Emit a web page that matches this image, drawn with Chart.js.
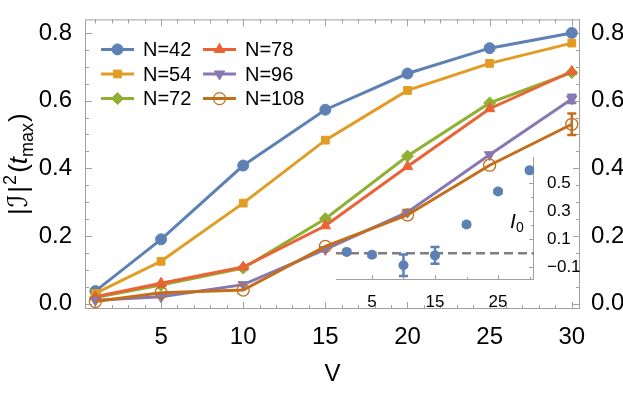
<!DOCTYPE html>
<html>
<head>
<meta charset="utf-8">
<script src="https://cdn.jsdelivr.net/npm/chart.js@4.4.1/dist/chart.umd.min.js"></script>
<style>
    body { margin: 0; background: #fff; }
    #wrap { position: relative; width: 623px; height: 393px; }
    #wrap canvas { position: absolute; }
    #main { left: 0; top: 0; }
    #inset { left: 300px; top: 140px; }
</style>
</head>
<body>
<div id="wrap">
    <canvas id="main" width="623" height="393"></canvas>
    <canvas id="inset" width="323" height="180"></canvas>
</div>
<script>
// values
const vValues = [1, 5, 10, 15, 20, 25, 30];
const seriesLabels = ["N=42", "N=54", "N=72", "N=78", "N=96", "N=108"];
const valuesN42 = [0.037, 0.19, 0.408, 0.573, 0.68, 0.755, 0.80];
const valuesN54 = [0.03, 0.125, 0.297, 0.483, 0.63, 0.71, 0.77];
const valuesN72 = [0.018, 0.055, 0.105, 0.251, 0.436, 0.593, 0.683];
const valuesN78 = [0.02, 0.06, 0.108, 0.23, 0.405, 0.576, 0.686];
const valuesN96 = [0.01, 0.02, 0.056, 0.16, 0.27, 0.44, 0.605];
const valuesN108 = [0.006, 0.032, 0.04, 0.169, 0.262, 0.409, 0.53];
const errorsN96 = [0, 0, 0, 0, 0, 0, 0.012];
const errorsN108 = [0, 0, 0, 0, 0, 0, 0.032];
const xTicks = [5, 10, 15, 20, 25, 30];
const yTicks = [0, 0.2, 0.4, 0.6, 0.8];

// inset: I0 against V
const insetV = [1, 5, 10, 15, 20, 25, 30];
const insetI0 = [0.01, -0.01, -0.085, -0.015, 0.205, 0.44, 0.59];
const insetErrors = [0.01, 0.012, 0.077, 0.06, 0.012, 0.012, 0.012];
const insetXTicks = [5, 15, 25];
const insetYTicks = [-0.1, 0.1, 0.3, 0.5];

const allValues = [valuesN42, valuesN54, valuesN72, valuesN78, valuesN96, valuesN108];
const allErrors = [null, null, null, null, errorsN96, errorsN108];

const colors = ["#5E81B5", "#E19C24", "#8FB032", "#EB6235", "#8778B3", "#C56E1A"];
const markers = [
    { style: "circle", radius: 5.5, rotation: 0, fill: true },
    { style: "rect", radius: 5.5, rotation: 0, fill: true },
    { style: "rectRot", radius: 6, rotation: 0, fill: true },
    { style: "triangle", radius: 6, rotation: 0, fill: true },
    { style: "triangle", radius: 6, rotation: 180, fill: true },
    { style: "circle", radius: 6, rotation: 0, fill: false }
];

const FONT = "'Liberation Sans', 'DejaVu Sans', sans-serif";
const FRAME = "#a0a0a0";

function toPoints(xs, ys) {
    return xs.map((x, i) => ({ x: x, y: ys[i] }));
}

function range(a, b, step) {
    const out = [];
    for (let v = a; v <= b + 1e-9; v += step) out.push(Math.round(v * 1000) / 1000);
    return out;
}

// frame with inward ticks, Mathematica style
const framePlugin = {
    id: "frame",
    beforeDatasetsDraw(chart, args, opts) {
        const ctx = chart.ctx;
        const a = chart.chartArea;
        const xs = chart.scales.x;
        const ys = chart.scales.y;
        ctx.save();
        ctx.strokeStyle = FRAME;
        ctx.lineWidth = 1;
        ctx.beginPath();
        (opts.sides || ["left", "right", "top", "bottom"]).forEach((s) => {
            if (s === "left") { ctx.moveTo(a.left + 0.5, a.top); ctx.lineTo(a.left + 0.5, a.bottom); }
            if (s === "right") { ctx.moveTo(a.right - 0.5, a.top); ctx.lineTo(a.right - 0.5, a.bottom); }
            if (s === "top") { ctx.moveTo(a.left, a.top + 0.5); ctx.lineTo(a.right, a.top + 0.5); }
            if (s === "bottom") { ctx.moveTo(a.left, a.bottom - 0.5); ctx.lineTo(a.right, a.bottom - 0.5); }
        });
        ctx.stroke();
        ctx.beginPath();
        const xt = (vals, len) => vals.forEach((v) => {
            const px = Math.round(xs.getPixelForValue(v)) + 0.5;
            if (px < a.left || px > a.right) return;
            if (opts.xBottom) { ctx.moveTo(px, a.bottom); ctx.lineTo(px, a.bottom - len); }
            if (opts.xTop) { ctx.moveTo(px, a.top); ctx.lineTo(px, a.top + len); }
        });
        const yt = (vals, len) => vals.forEach((v) => {
            const py = Math.round(ys.getPixelForValue(v)) + 0.5;
            if (py < a.top || py > a.bottom) return;
            if (opts.yLeft) { ctx.moveTo(a.left, py); ctx.lineTo(a.left + len, py); }
            if (opts.yRight) { ctx.moveTo(a.right, py); ctx.lineTo(a.right - len, py); }
        });
        xt(opts.xMajor, opts.majorLen);
        xt(opts.xMinor, opts.minorLen);
        yt(opts.yMajor, opts.majorLen);
        yt(opts.yMinor, opts.minorLen);
        ctx.stroke();
        ctx.restore();
    }
};

// vertical error bars from dataset.errors
const errorBarPlugin = {
    id: "errorBars",
    afterDatasetsDraw(chart) {
        const ctx = chart.ctx;
        const ys = chart.scales.y;
        ctx.save();
        chart.data.datasets.forEach((ds, i) => {
            if (!ds.errors) return;
            const meta = chart.getDatasetMeta(i);
            ctx.strokeStyle = ds.borderColor;
            ctx.lineWidth = 2.5;
            meta.data.forEach((pt, j) => {
                const e = ds.errors[j];
                if (!e) return;
                const v = ds.data[j].y;
                const y1 = ys.getPixelForValue(v + e);
                const y2 = ys.getPixelForValue(v - e);
                ctx.beginPath();
                ctx.moveTo(pt.x, y1); ctx.lineTo(pt.x, y2);
                ctx.moveTo(pt.x - 4.5, y1); ctx.lineTo(pt.x + 4.5, y1);
                ctx.moveTo(pt.x - 4.5, y2); ctx.lineTo(pt.x + 4.5, y2);
                ctx.stroke();
            });
        });
        ctx.restore();
    }
};

// two-column legend with line + marker
const legendPlugin = {
    id: "lineLegend",
    afterDatasetsDraw(chart) {
        const ctx = chart.ctx;
        const a = chart.chartArea;
        ctx.save();
        chart.data.datasets.forEach((ds, i) => {
            const col = Math.floor(i / 3);
            const row = i % 3;
            const x0 = a.left + 16 + col * 102;
            const y = a.top + 30 + row * 24.6;
            ctx.strokeStyle = ds.borderColor;
            ctx.lineWidth = 3;
            ctx.beginPath();
            ctx.moveTo(x0, y);
            ctx.lineTo(x0 + 33, y);
            ctx.stroke();
            ctx.fillStyle = ds.pointBackgroundColor;
            ctx.strokeStyle = ds.borderColor;
            ctx.lineWidth = ds.pointBorderWidth;
            Chart.helpers.drawPoint(ctx, {
                pointStyle: ds.pointStyle,
                rotation: ds.pointRotation,
                radius: ds.pointRadius,
                borderWidth: ds.pointBorderWidth
            }, x0 + 16.5, y);
            ctx.fillStyle = "#000";
            ctx.font = "20px " + FONT;
            ctx.textBaseline = "middle";
            ctx.textAlign = "left";
            ctx.fillText(ds.label, x0 + 42, y + 1);
        });
        ctx.restore();
    }
};

// rotated y title |I|^2(t_max)
const yTitlePlugin = {
    id: "yTitle",
    afterDraw(chart) {
        const ctx = chart.ctx;
        const a = chart.chartArea;
        const parts = [
            { t: "|", f: "26px " + FONT, dy: 0, gap: 1 },
            { t: "\u2110", f: "italic 27px 'DejaVu Serif', " + FONT, dy: 0, gap: 2 },
            { t: "|", f: "26px " + FONT, dy: 0, gap: 1 },
            { t: "2", f: "18px " + FONT, dy: -11, gap: 2 },
            { t: "(", f: "26px " + FONT, dy: 0, gap: 0 },
            { t: "t", f: "italic 26px " + FONT, dy: 0, gap: 0 },
            { t: "max", f: "18px " + FONT, dy: 6, gap: 1 },
            { t: ")", f: "26px " + FONT, dy: 0, gap: 0 }
        ];
        ctx.save();
        ctx.fillStyle = "#000";
        ctx.textBaseline = "alphabetic";
        ctx.textAlign = "left";
        let total = 0;
        parts.forEach((p) => { ctx.font = p.f; p.w = ctx.measureText(p.t).width + p.gap; total += p.w; });
        ctx.translate(17, (a.top + a.bottom) / 2);
        ctx.rotate(-Math.PI / 2);
        let x = -total / 2;
        parts.forEach((p) => {
            ctx.font = p.f;
            ctx.fillText(p.t, x, 10 + p.dy);
            x += p.w;
        });
        ctx.restore();
    }
};

const mainDatasets = seriesLabels.map((label, i) => ({
    label: label,
    data: toPoints(vValues, allValues[i]),
    errors: allErrors[i],
    borderColor: colors[i],
    backgroundColor: colors[i],
    borderWidth: 3,
    pointStyle: markers[i].style,
    pointRadius: markers[i].radius,
    pointRotation: markers[i].rotation,
    pointBackgroundColor: markers[i].fill ? colors[i] : "rgba(0,0,0,0)",
    pointBorderColor: colors[i],
    pointBorderWidth: markers[i].fill ? 1 : 1.3,
    tension: 0,
    order: seriesLabels.length - i
}));

const tickFont = { family: FONT, size: 24 };

new Chart(document.getElementById("main"), {
    type: "line",
    data: { datasets: mainDatasets },
    options: {
        responsive: false,
        animation: false,
        events: [],
        layout: { padding: { top: 2, right: 0, left: 0, bottom: 0 } },
        plugins: {
            legend: { display: false },
            tooltip: { enabled: false },
            frame: {
                xMajor: xTicks, xMinor: range(1, 30, 1),
                yMajor: yTicks, yMinor: range(0, 0.8, 0.05),
                majorLen: 7, minorLen: 4,
                xBottom: true, xTop: true, yLeft: true, yRight: true
            }
        },
        scales: {
            x: {
                type: "linear",
                min: 0.37, max: 30.5,
                grid: { display: false },
                border: { display: false },
                afterBuildTicks: (s) => { s.ticks = xTicks.map((v) => ({ value: v })); },
                afterFit: (s) => { s.height = 84; },
                ticks: { font: tickFont, color: "#000", padding: 6, maxRotation: 0 },
                title: { display: true, text: "V", font: { family: FONT, size: 24 }, color: "#000", padding: { top: 0, bottom: 4 } }
            },
            y: {
                type: "linear",
                position: "left",
                min: -0.016, max: 0.84,
                grid: { display: false },
                border: { display: false },
                afterBuildTicks: (s) => { s.ticks = yTicks.map((v) => ({ value: v })); },
                afterFit: (s) => { s.width = 85; },
                ticks: { font: tickFont, color: "#000", padding: 5, callback: (v) => v.toFixed(1) }
            },
            y2: {
                type: "linear",
                position: "right",
                min: -0.016, max: 0.84,
                grid: { display: false },
                border: { display: false },
                afterBuildTicks: (s) => { s.ticks = yTicks.map((v) => ({ value: v })); },
                afterFit: (s) => { s.width = 43; },
                ticks: { font: tickFont, color: "#000", padding: 3, callback: (v) => v.toFixed(1) }
            }
        }
    },
    plugins: [framePlugin, errorBarPlugin, legendPlugin, yTitlePlugin]
});

// inset: dashed zero line and I0 label
const zeroLinePlugin = {
    id: "zeroLine",
    beforeDatasetsDraw(chart) {
        const ctx = chart.ctx;
        const a = chart.chartArea;
        const y = chart.scales.y.getPixelForValue(0);
        ctx.save();
        ctx.strokeStyle = "#7f7f7f";
        ctx.lineWidth = 2.5;
        ctx.setLineDash([9, 5]);
        ctx.beginPath();
        ctx.moveTo(a.left, y);
        ctx.lineTo(a.right, y);
        ctx.stroke();
        ctx.restore();
    },
    afterDraw(chart) {
        const ctx = chart.ctx;
        const a = chart.chartArea;
        const y = chart.scales.y.getPixelForValue(0.18);
        ctx.save();
        ctx.fillStyle = "#000";
        ctx.textBaseline = "alphabetic";
        ctx.font = "italic 21px " + FONT;
        ctx.fillText("I", a.right - 24, y);
        ctx.font = "14px " + FONT;
        ctx.fillText("0", a.right - 18, y + 4);
        ctx.restore();
    }
};

const insetFont = { family: FONT, size: 17 };

new Chart(document.getElementById("inset"), {
    type: "scatter",
    data: {
        datasets: [{
            label: "I0",
            data: toPoints(insetV, insetI0),
            errors: insetErrors,
            borderColor: colors[0],
            backgroundColor: colors[0],
            pointRadius: 5,
            pointBorderWidth: 0,
            showLine: false
        }]
    },
    options: {
        responsive: false,
        animation: false,
        events: [],
        layout: { padding: { top: 17, left: 36, right: 0, bottom: 0 } },
        plugins: {
            legend: { display: false },
            tooltip: { enabled: false },
            frame: {
                sides: ["right", "bottom"],
                xMajor: insetXTicks, xMinor: [10, 20, 30],
                yMajor: insetYTicks, yMinor: [-0.2, 0, 0.2, 0.4, 0.6],
                majorLen: 5, minorLen: 3,
                xBottom: true, xTop: false, yLeft: false, yRight: true
            }
        },
        scales: {
            x: {
                type: "linear",
                min: -0.7, max: 30.7,
                grid: { display: false },
                border: { display: false },
                afterBuildTicks: (s) => { s.ticks = insetXTicks.map((v) => ({ value: v })); },
                afterFit: (s) => { s.height = 40; },
                ticks: { font: insetFont, color: "#000", padding: 4, maxRotation: 0 }
            },
            y: {
                type: "linear",
                position: "right",
                min: -0.19, max: 0.685,
                grid: { display: false },
                border: { display: false },
                afterBuildTicks: (s) => { s.ticks = insetYTicks.map((v) => ({ value: v })); },
                afterFit: (s) => { s.width = 89; },
                ticks: { font: insetFont, color: "#000", padding: 5, callback: (v) => (v < 0 ? "\u2212" + Math.abs(v).toFixed(1) : v.toFixed(1)) }
            }
        }
    },
    plugins: [framePlugin, zeroLinePlugin, errorBarPlugin]
});
</script>
</body>
</html>
